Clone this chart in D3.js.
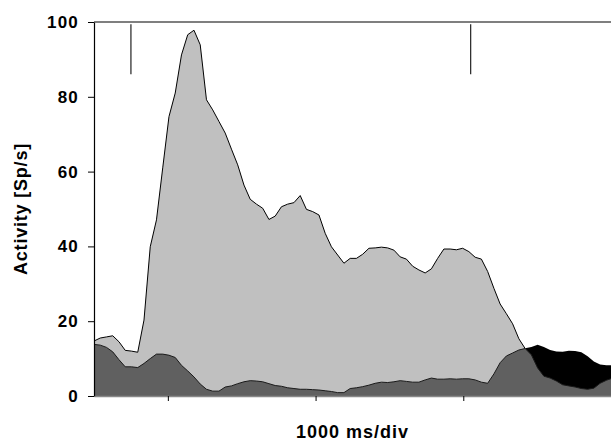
<!DOCTYPE html>
<html>
<head>
<meta charset="utf-8">
<script src="https://cdn.jsdelivr.net/npm/d3@7"></script>
<style>
  body { margin: 0; background: #fff; }
  text { font-family: "Liberation Sans", Arial, sans-serif; font-weight: bold; fill: #000; }
</style>
</head>
<body>
<svg id="chart" width="611" height="443"></svg>
<script>
// bins start at -500 ms, one value per bin
const binMs = 42.3
const startMs = -500
const yTicks = [0, 20, 40, 60, 80, 100]
const xTicks = [0, 1000, 2000]
const markerTimes = [-250, 2050]

const lightValues = [14.7, 15.5, 15.8, 16.1, 14.5, 12.2, 12.0, 11.7, 20.3, 39.9,
  47.1, 61, 74.7, 81, 91.2, 96.6, 97.8, 93.9, 79.2, 76.5,
  73.4, 70.3, 66.0, 61.8, 56.4, 52.6, 51.3, 50.2, 47.2, 48.1,
  50.6, 51.3, 51.7, 53.6, 49.9, 49.3, 48.4, 43.5, 39.9, 37.7,
  35.5, 36.8, 36.8, 37.9, 39.5, 39.6, 39.8, 39.6, 39.0, 37.2,
  36.6, 34.7, 33.7, 32.9, 34.0, 36.8, 39.3, 39.3, 39.1, 39.5,
  38.6, 37.1, 36.6, 33.3, 28.8, 24.6, 22.0, 19.3, 15.3, 12.7]

const darkValues = [13.8, 13.6, 13.0, 11.8, 9.7, 7.8, 7.8, 7.6, 8.7, 10.0,
  11.2, 11.2, 10.9, 10.3, 8.2, 6.7, 5.1, 3.2, 1.8, 1.3,
  1.3, 2.4, 2.7, 3.3, 3.8, 4.1, 4.0, 3.8, 3.3, 2.8,
  2.6, 2.2, 2.0, 1.8, 1.8, 1.7, 1.6, 1.4, 1.2, 0.9,
  0.9, 2.0, 2.2, 2.5, 2.9, 3.4, 3.7, 3.6, 3.8, 4.1,
  3.9, 3.7, 3.7, 4.3, 4.8, 4.5, 4.5, 4.6, 4.5, 4.6,
  4.6, 4.3, 3.7, 3.4, 5.9, 8.9, 10.7, 11.5, 12.3, 12.7,
  11.0, 7.5, 5.3, 4.8, 4.0, 3.0, 2.7, 2.4, 2.0, 1.8,
  2.1, 3.4, 4.2, 4.8]

// black series only shows after the light one has gone
const lateStart = 69
const lateValues = [12.8, 13.1, 13.7, 13.1, 12.3, 11.9, 11.8, 12.1, 12.0, 11.7,
  10.6, 9.2, 8.4, 8.2, 8.2]

const svg = d3.select('#chart')
const margin = { top: 22, right: 0, bottom: 47, left: 94 }
const width = 611 - margin.left - margin.right
const height = 443 - margin.top - margin.bottom

const x = d3.scaleLinear().domain([-500, 3000]).range([0, width])
const y = d3.scaleLinear().domain([0, 100]).range([height, 0])

const toPoints = (vals, offset) => vals.map((v, i) => ({ t: startMs + (i + offset) * binMs, v: v }))

const area = d3.area()
  .x(d => x(d.t))
  .y0(y(0))
  .y1(d => y(d.v))

const line = d3.line()
  .x(d => x(d.t))
  .y(d => y(d.v))

svg.append('defs').append('clipPath')
  .attr('id', 'plotclip')
  .append('rect')
  .attr('width', width)
  .attr('height', height + 1)

const chart = svg.append('g')
  .attr('transform', `translate(${margin.left}, ${margin.top})`)

const plot = chart.append('g').attr('clip-path', 'url(#plotclip)')

const late = toPoints(lateValues, lateStart)
const light = toPoints(lightValues, 0)
const dark = toPoints(darkValues, 0)

plot.append('path').datum(late)
  .attr('d', area)
  .attr('fill', '#000')

plot.append('path').datum(light)
  .attr('d', area)
  .attr('fill', '#c0c0c0')
plot.append('path').datum(light)
  .attr('d', line)
  .attr('fill', 'none')
  .attr('stroke', '#000')
  .attr('stroke-width', 1)

plot.append('path').datum(dark)
  .attr('d', area)
  .attr('fill', '#606060')
plot.append('path').datum(dark)
  .attr('d', line)
  .attr('fill', 'none')
  .attr('stroke', '#1a1a1a')
  .attr('stroke-width', 1)

// stimulus markers at the top
chart.selectAll('.marker')
  .data(markerTimes)
  .enter()
  .append('line')
  .attr('class', 'marker')
  .attr('x1', d => x(d))
  .attr('x2', d => x(d))
  .attr('y1', y(99.4))
  .attr('y2', y(86))
  .attr('stroke', '#222')
  .attr('stroke-width', 1.2)

// top frame line
chart.append('line')
  .attr('x1', 0)
  .attr('x2', width)
  .attr('y1', y(100))
  .attr('y2', y(100))
  .attr('stroke', '#000')
  .attr('stroke-width', 1.2)

const xAxis = chart.append('g')
  .attr('transform', `translate(0, ${height})`)
  .call(d3.axisBottom(x).tickValues(xTicks).tickSize(5).tickSizeOuter(0).tickFormat(''))
xAxis.select('.domain').attr('stroke', '#888').attr('stroke-width', 1.5)
xAxis.selectAll('.tick line').attr('stroke', '#000')

const yAxis = chart.append('g')
  .call(d3.axisLeft(y).tickValues(yTicks).tickSize(6).tickSizeOuter(0).tickPadding(9))
yAxis.select('.domain').attr('stroke', '#000').attr('stroke-width', 1.2)
yAxis.selectAll('.tick line').attr('stroke', '#000')
yAxis.selectAll('.tick text')
  .attr('font-size', 17)
  .attr('font-family', '"Liberation Sans", Arial, sans-serif')
  .attr('font-weight', 'bold')
  .attr('letter-spacing', 1.2)
  .attr('fill', '#000')

svg.append('text')
  .attr('x', margin.left + width / 2)
  .attr('y', 438)
  .attr('text-anchor', 'middle')
  .attr('font-size', 18)
  .attr('letter-spacing', 1)
  .text('1000 ms/div')

svg.append('text')
  .attr('transform', `translate(27, ${margin.top + height / 2}) rotate(-90)`)
  .attr('text-anchor', 'middle')
  .attr('font-size', 18)
  .attr('letter-spacing', 0.8)
  .text('Activity [Sp/s]')
</script>
</body>
</html>
